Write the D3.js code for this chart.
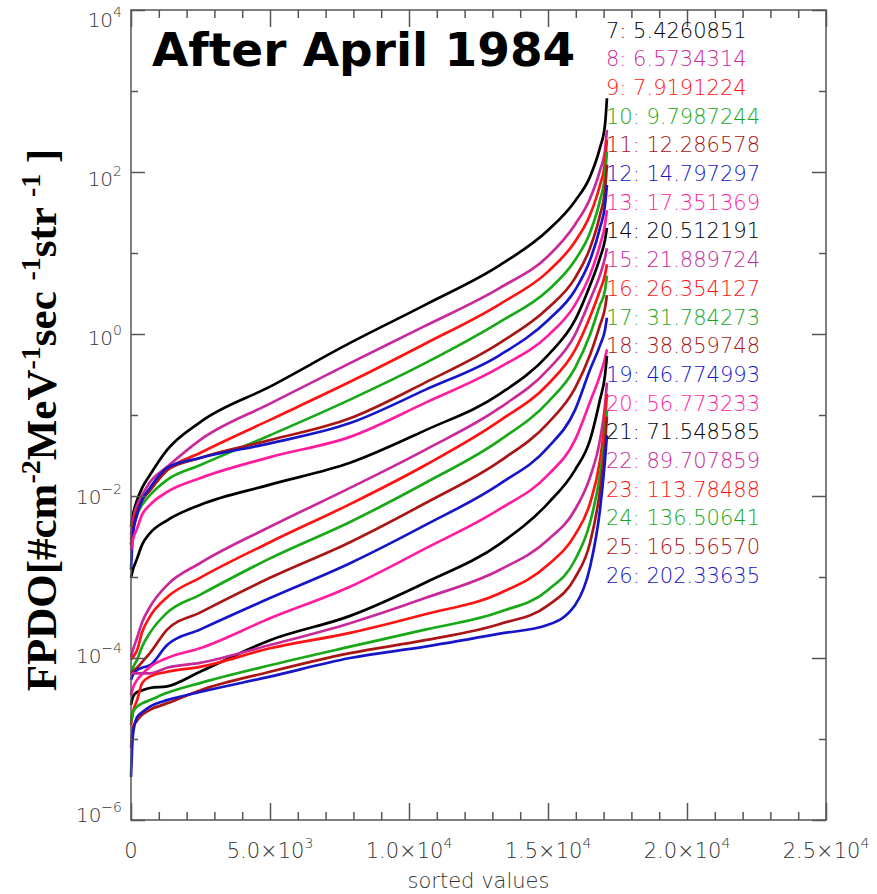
<!DOCTYPE html>
<html>
<head>
<meta charset="utf-8">
<script src="https://cdn.jsdelivr.net/npm/d3@7/dist/d3.min.js"></script>
<style>
  html, body { margin: 0; padding: 0; background: #fff; }
  svg { display: block; }
</style>
</head>
<body>
<svg id="chart" width="877" height="894"></svg>
<script>
// Sorted sample index (x) shared by every channel
const sortedIndex = [0, 70, 220, 400, 680, 1300, 2480, 5000, 7880, 10580, 13270, 15000, 15970, 16510, 16870, 17050, 17120];

// log10 of FPDO for each channel, at the sorted indices above
const logFlux07 = [-2.38, -2.23, -2.05, -1.90, -1.74, -1.43, -1.09, -0.65, -0.11, 0.36, 0.85, 1.28, 1.64, 1.94, 2.30, 2.58, 2.91];
const logFlux08 = [-2.48, -2.30, -2.11, -1.99, -1.83, -1.64, -1.31, -0.86, -0.36, 0.10, 0.57, 0.96, 1.35, 1.67, 2.02, 2.27, 2.52];
const logFlux09 = [-2.54, -2.36, -2.17, -2.05, -1.93, -1.68, -1.47, -1.06, -0.59, -0.12, 0.37, 0.77, 1.14, 1.47, 1.84, 2.12, 2.40];
const logFlux10 = [-2.60, -2.42, -2.23, -2.11, -1.99, -1.80, -1.62, -1.25, -0.81, -0.36, 0.15, 0.54, 0.91, 1.25, 1.65, 1.96, 2.25];
const logFlux11 = [-2.60, -2.40, -2.20, -2.05, -1.93, -1.68, -1.53, -1.31, -1.04, -0.60, -0.11, 0.32, 0.69, 1.06, 1.47, 1.78, 2.09];
const logFlux12 = [-2.91, -2.48, -2.23, -2.05, -1.90, -1.65, -1.53, -1.35, -1.10, -0.69, -0.26, 0.17, 0.54, 0.91, 1.31, 1.59, 1.84];
const logFlux13 = [-2.67, -2.54, -2.40, -2.23, -2.11, -1.95, -1.78, -1.52, -1.27, -0.85, -0.41, -0.02, 0.36, 0.73, 1.10, 1.35, 1.53];
const logFlux14 = [-3.01, -2.91, -2.77, -2.60, -2.46, -2.30, -2.11, -1.86, -1.59, -1.19, -0.74, -0.26, 0.17, 0.60, 0.94, 1.16, 1.31];
const logFlux15 = [-3.99, -3.90, -3.75, -3.56, -3.37, -3.10, -2.83, -2.38, -1.90, -1.43, -0.91, -0.44, -0.01, 0.42, 0.73, 0.94, 1.06];
const logFlux16 = [-4.02, -3.99, -3.90, -3.68, -3.49, -3.25, -3.01, -2.57, -2.10, -1.62, -1.07, -0.62, -0.20, 0.21, 0.54, 0.73, 0.86];
const logFlux17 = [-4.19, -4.12, -4.02, -3.86, -3.69, -3.44, -3.22, -2.77, -2.32, -1.84, -1.31, -0.84, -0.42, -0.01, 0.36, 0.54, 0.72];
const logFlux18 = [-4.21, -4.17, -4.12, -4.05, -3.94, -3.65, -3.44, -3.01, -2.57, -2.09, -1.57, -1.10, -0.67, -0.26, 0.11, 0.32, 0.48];
const logFlux19 = [-4.27, -4.21, -4.15, -4.12, -4.09, -3.84, -3.65, -3.26, -2.83, -2.36, -1.85, -1.40, -0.94, -0.44, -0.14, 0.05, 0.20];
const logFlux20 = [-4.46, -4.37, -4.27, -4.20, -4.11, -4.00, -3.88, -3.51, -3.12, -2.65, -2.16, -1.74, -1.31, -0.84, -0.51, -0.30, -0.19];
const logFlux21 = [-4.58, -4.48, -4.42, -4.40, -4.37, -4.35, -4.17, -3.78, -3.48, -3.07, -2.59, -2.09, -1.68, -1.31, -0.81, -0.51, -0.27];
const logFlux22 = [-4.19, -4.19, -4.19, -4.19, -4.19, -4.12, -4.06, -3.84, -3.57, -3.26, -2.91, -2.54, -2.17, -1.77, -1.31, -0.88, -0.60];
const logFlux23 = [-4.83, -4.67, -4.52, -4.31, -4.23, -4.17, -4.11, -3.88, -3.69, -3.46, -3.20, -2.85, -2.48, -2.09, -1.56, -1.06, -0.74];
const logFlux24 = [-4.79, -4.67, -4.60, -4.56, -4.52, -4.43, -4.31, -4.09, -3.86, -3.65, -3.43, -3.16, -2.79, -2.33, -1.74, -1.25, -0.94];
const logFlux25 = [-5.11, -4.86, -4.77, -4.70, -4.64, -4.56, -4.40, -4.17, -3.94, -3.78, -3.58, -3.35, -3.01, -2.58, -1.93, -1.37, -1.02];
const logFlux26 = [-5.47, -4.95, -4.73, -4.67, -4.60, -4.52, -4.42, -4.23, -4.00, -3.86, -3.70, -3.59, -3.35, -2.88, -2.17, -1.56, -1.25];

// Channel numbers and their energies
const channelIds = [7, 8, 9, 10, 11, 12, 13, 14, 15, 16, 17, 18, 19, 20, 21, 22, 23, 24, 25, 26];
const channelEnergies = ["5.4260851", "6.5734314", "7.9191224", "9.7987244", "12.286578", "14.797297", "17.351369",
  "20.512191", "21.889724", "26.354127", "31.784273", "38.859748", "46.774993", "56.773233",
  "71.548585", "89.707859", "113.78488", "136.50641", "165.56570", "202.33635"];
const channelLogFlux = [logFlux07, logFlux08, logFlux09, logFlux10, logFlux11, logFlux12, logFlux13,
  logFlux14, logFlux15, logFlux16, logFlux17, logFlux18, logFlux19, logFlux20,
  logFlux21, logFlux22, logFlux23, logFlux24, logFlux25, logFlux26];

// Axis ticks
const xMajorTicks = [0, 5000, 10000, 15000, 20000, 25000];
const xTickLabels = [["0", ""], ["5.0\u00d710", "3"], ["1.0\u00d710", "4"], ["1.5\u00d710", "4"], ["2.0\u00d710", "4"], ["2.5\u00d710", "4"]];
const yMajorExponents = [4, 2, 0, -2, -4, -6];
const yTickLabels = ["4", "2", "0", "\u22122", "\u22124", "\u22126"];

// Seven-colour cycle used for the channels
const palette = ["#000000", "#c92a9a", "#ff1212", "#18a818", "#aa1616", "#1616c8", "#ff1c9e"];

const svg = d3.select("#chart");
const margin = { left: 131, right: 826, top: 10, bottom: 820 };

const x = d3.scaleLinear().domain([0, 25000]).range([margin.left, margin.right]);
const y = d3.scaleLog().domain([1e-6, 1e4]).range([margin.bottom, margin.top]);

const axisColor = "#555";
const labelColor = "#333";
const tickFont = "'DejaVu Sans', sans-serif";
const tickWeight = 200;

// Curves
const line = d3.line()
  .x(d => x(d[0]))
  .y(d => y(d[1]))
  .curve(d3.curveMonotoneX);

const curves = svg.append("g");
channelLogFlux.forEach((logs, i) => {
  const pts = sortedIndex.map((s, j) => [s, Math.pow(10, logs[j])]);
  curves.append("path")
    .datum(pts)
    .attr("fill", "none")
    .attr("stroke", palette[i % palette.length])
    .attr("stroke-width", 2.7)
    .attr("stroke-linejoin", "round")
    .attr("d", line);
});

// Frame and inward ticks on all four sides
const xMinor = d3.range(0, 25001, 1000).filter(v => v % 5000 !== 0);
const yMinor = [-5, -3, -1, 1, 3].map(e => Math.pow(10, e));
const yMajor = yMajorExponents.map(e => Math.pow(10, e));

function styleAxis(g) {
  g.select(".domain").remove();
  g.selectAll("line").attr("stroke", axisColor).attr("stroke-width", 1.5);
  g.selectAll("text").remove();
}

const axes = svg.append("g");
axes.append("g").attr("transform", `translate(0,${margin.bottom})`)
  .call(d3.axisBottom(x).tickValues(xMajorTicks).tickSize(-17)).call(styleAxis);
axes.append("g").attr("transform", `translate(0,${margin.bottom})`)
  .call(d3.axisBottom(x).tickValues(xMinor).tickSize(-8)).call(styleAxis);
axes.append("g").attr("transform", `translate(0,${margin.top})`)
  .call(d3.axisTop(x).tickValues(xMajorTicks).tickSize(-17)).call(styleAxis);
axes.append("g").attr("transform", `translate(0,${margin.top})`)
  .call(d3.axisTop(x).tickValues(xMinor).tickSize(-8)).call(styleAxis);
axes.append("g").attr("transform", `translate(${margin.left},0)`)
  .call(d3.axisLeft(y).tickValues(yMajor).tickSize(-14)).call(styleAxis);
axes.append("g").attr("transform", `translate(${margin.left},0)`)
  .call(d3.axisLeft(y).tickValues(yMinor).tickSize(-7)).call(styleAxis);
axes.append("g").attr("transform", `translate(${margin.right},0)`)
  .call(d3.axisRight(y).tickValues(yMajor).tickSize(-14)).call(styleAxis);
axes.append("g").attr("transform", `translate(${margin.right},0)`)
  .call(d3.axisRight(y).tickValues(yMinor).tickSize(-7)).call(styleAxis);

axes.append("rect")
  .attr("x", margin.left).attr("y", margin.top)
  .attr("width", margin.right - margin.left).attr("height", margin.bottom - margin.top)
  .attr("fill", "none").attr("stroke", axisColor).attr("stroke-width", 1.5);

// X tick labels
xMajorTicks.forEach((v, i) => {
  const t = svg.append("text")
    .attr("x", x(v)).attr("y", 858)
    .attr("text-anchor", "middle")
    .attr("font-family", tickFont).attr("font-weight", tickWeight).attr("font-size", 21)
    .attr("fill", labelColor);
  t.append("tspan").text(xTickLabels[i][0]);
  if (xTickLabels[i][1]) {
    t.append("tspan").attr("dy", -10).attr("font-size", 14).text(xTickLabels[i][1]);
  }
});

// Y tick labels: the labels sit a little lower towards the top of the axis
yMajor.forEach((v, i) => {
  const t = svg.append("text")
    .attr("x", 122).attr("y", y(v) + 17 - 3 * i)
    .attr("text-anchor", "end")
    .attr("font-family", tickFont).attr("font-weight", tickWeight).attr("font-size", 20)
    .attr("fill", labelColor);
  t.append("tspan").text("10");
  t.append("tspan").attr("dy", -10).attr("font-size", 14).text(yTickLabels[i]);
});

// Axis titles
svg.append("text")
  .attr("x", (margin.left + margin.right) / 2).attr("y", 888)
  .attr("text-anchor", "middle")
  .attr("font-family", tickFont).attr("font-weight", tickWeight).attr("font-size", 21)
  .attr("fill", labelColor)
  .text("sorted values");

const yTitle = svg.append("text")
  .attr("transform", "translate(56,420) rotate(-90)")
  .attr("text-anchor", "middle")
  .attr("font-family", "'Liberation Serif', 'Times New Roman', serif")
  .attr("font-weight", "bold").attr("font-size", 43)
  .attr("fill", "#000");
[["FPDO[#cm", false], ["-2", true], ["MeV", false], ["-1", true], ["sec ", false], ["-1", true],
 ["str ", false], ["-1", true], [" ]", false]].forEach(([s, sup]) => {
  yTitle.append("tspan")
    .attr("font-size", sup ? 28 : 43)
    .attr("baseline-shift", sup ? "16" : "0")
    .attr("xml:space", "preserve")
    .text(s);
});

// Chart title
svg.append("text")
  .attr("x", 152).attr("y", 66)
  .attr("font-family", "'DejaVu Sans', sans-serif")
  .attr("font-weight", "bold").attr("font-size", 47)
  .attr("fill", "#000")
  .text("After April 1984");

// Channel legend
channelIds.forEach((id, i) => {
  svg.append("text")
    .attr("x", 606).attr("y", 37.5 + 28.7 * i)
    .attr("font-family", tickFont).attr("font-weight", tickWeight).attr("font-size", 21)
    .attr("fill", palette[i % palette.length])
    .attr("xml:space", "preserve")
    .text(`${id}: ${channelEnergies[i]}`);
});
</script>
</body>
</html>
